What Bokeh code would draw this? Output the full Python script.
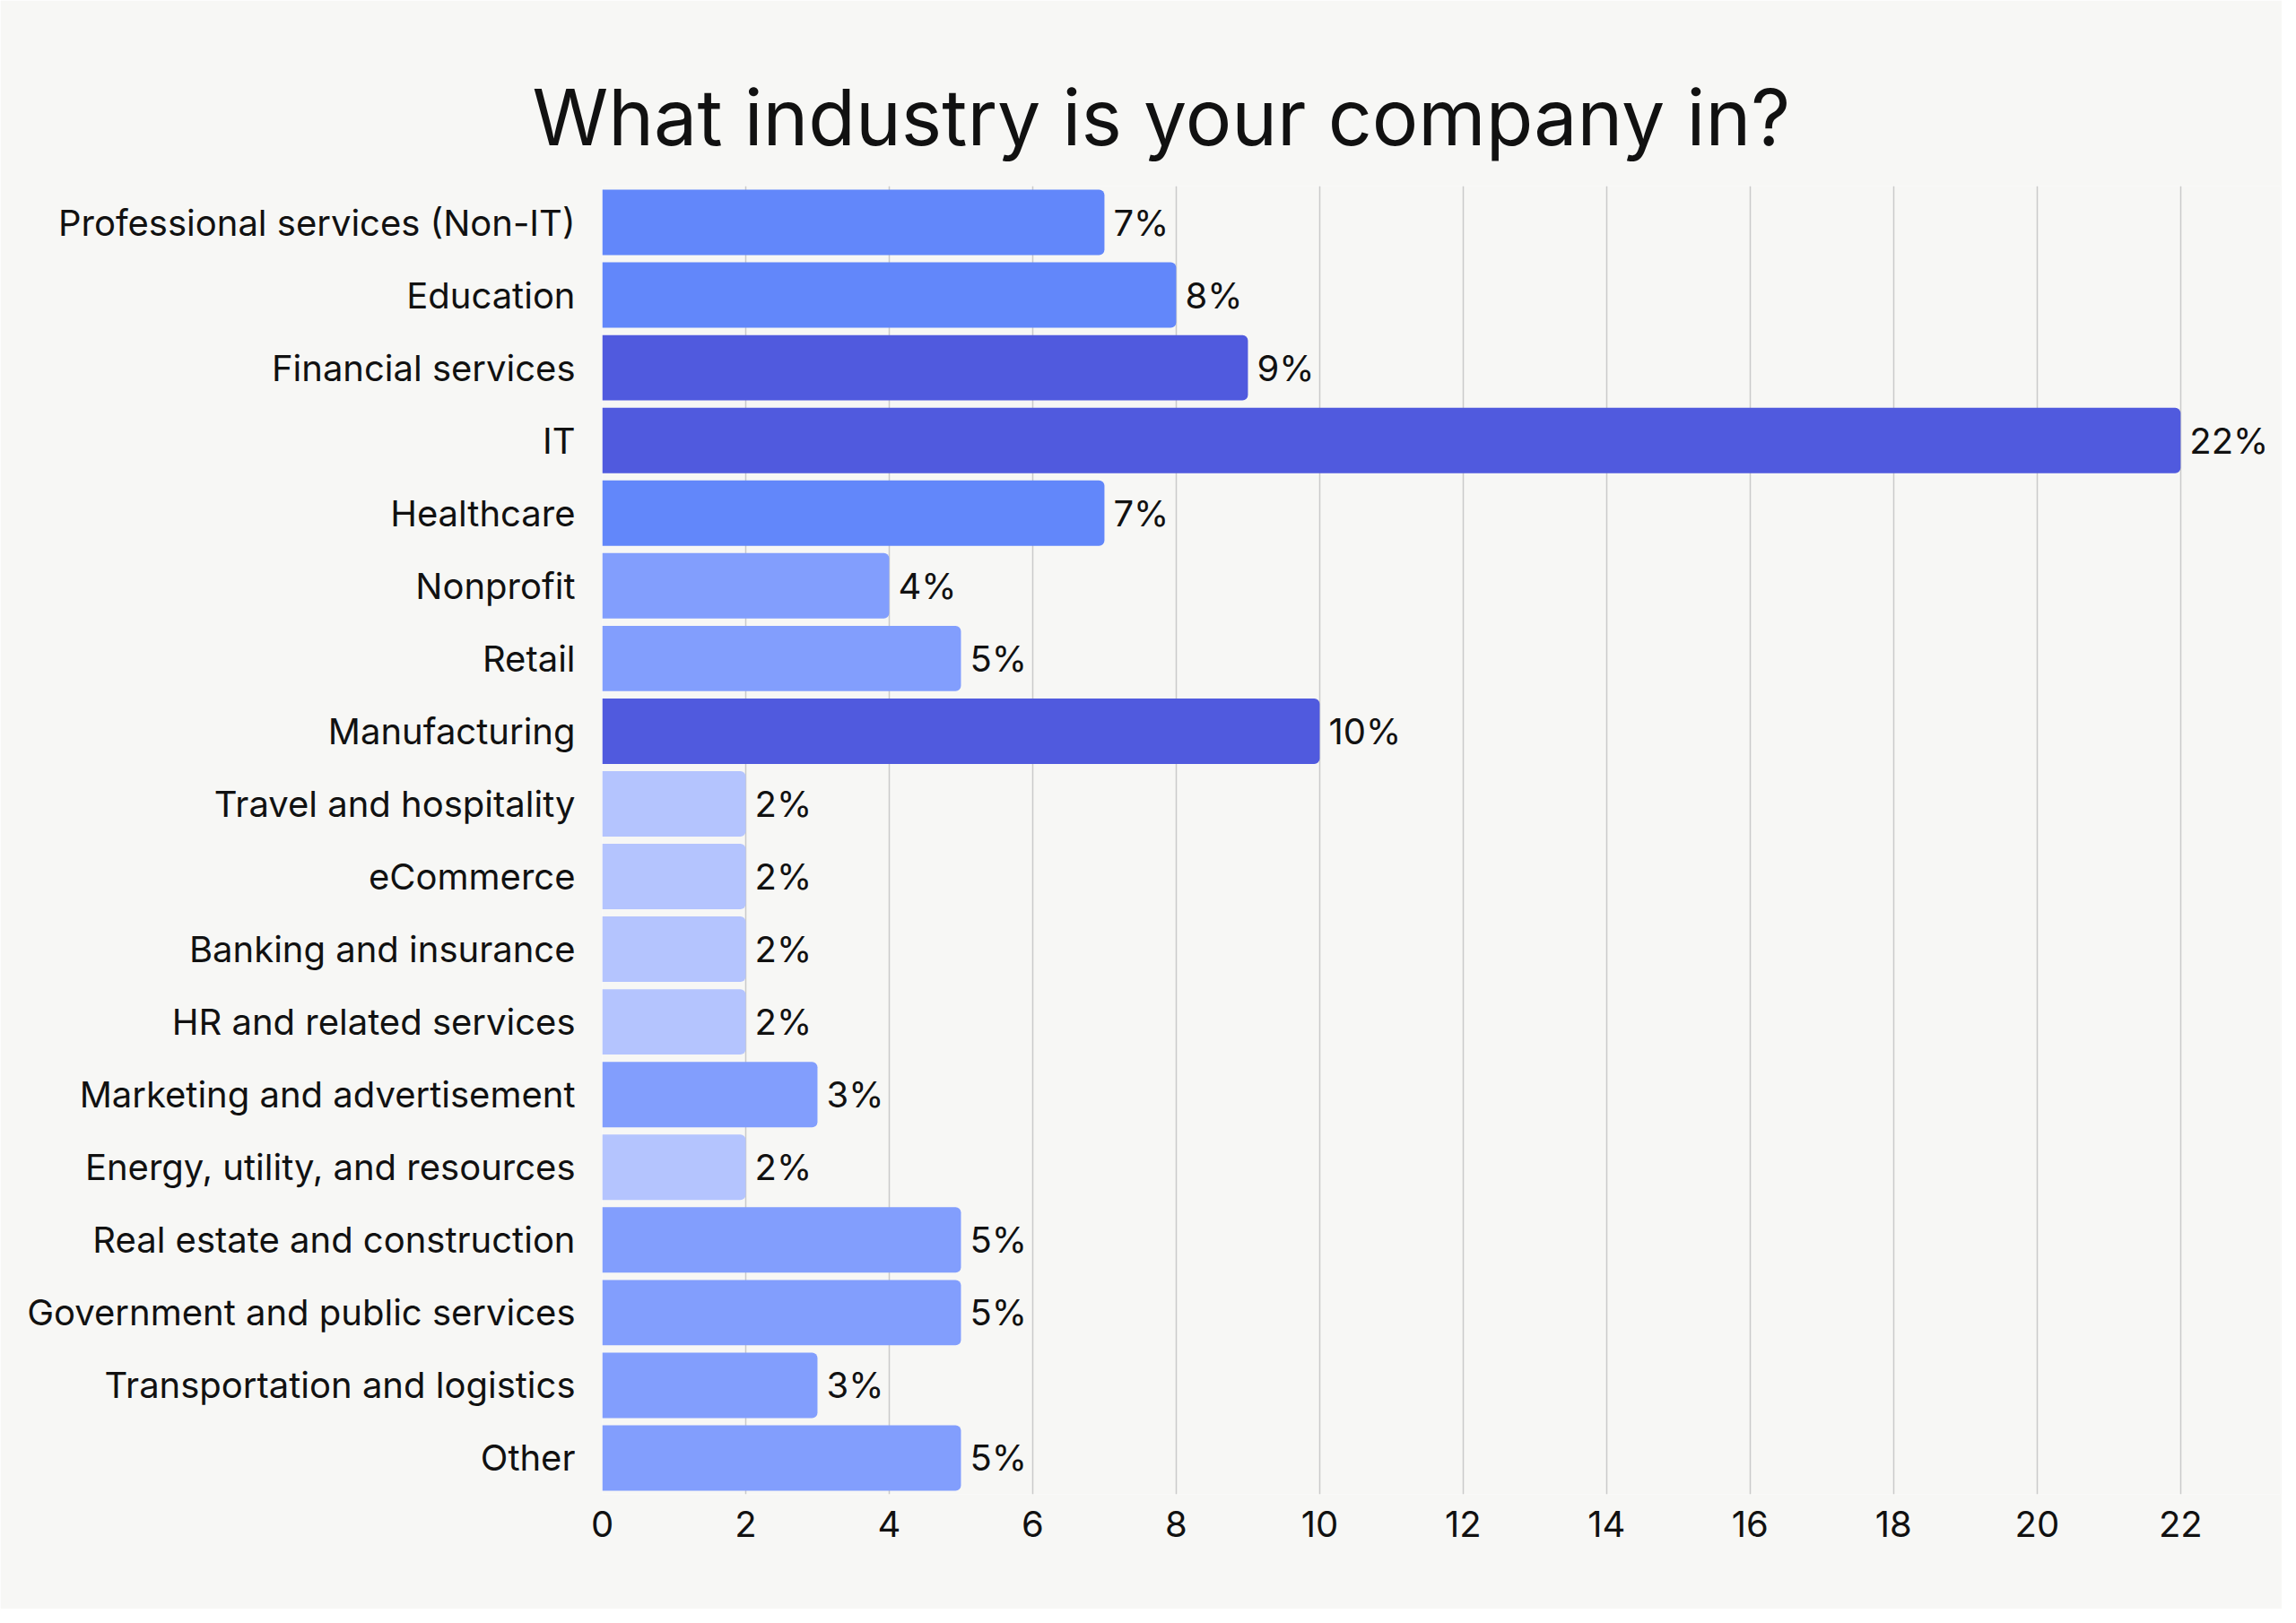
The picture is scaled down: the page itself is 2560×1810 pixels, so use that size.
from bokeh.plotting import figure
from bokeh.models import FactorRange, Range1d, FixedTicker, ColumnDataSource, Title
from bokeh.core.properties import value
from bokeh.embed import file_html
from bokeh.resources import INLINE

categories = [
    "Professional services (Non-IT)",
    "Education",
    "Financial services",
    "IT",
    "Healthcare",
    "Nonprofit",
    "Retail",
    "Manufacturing",
    "Travel and hospitality",
    "eCommerce",
    "Banking and insurance",
    "HR and related services",
    "Marketing and advertisement",
    "Energy, utility, and resources",
    "Real estate and construction",
    "Government and public services",
    "Transportation and logistics",
    "Other",
]
values = [7, 8, 9, 22, 7, 4, 5, 10, 2, 2, 2, 2, 3, 2, 5, 5, 3, 5]
tick_values = [0, 2, 4, 6, 8, 10, 12, 14, 16, 18, 20, 22]
title_text = "What industry is your company in?"

FONT = "Inter"
BG = "#F7F7F5"


def tier_color(v):
    if v >= 9:
        return "#505ADE"
    if v >= 7:
        return "#6287FA"
    if v >= 3:
        return "#829EFD"
    return "#B4C4FE"


source = ColumnDataSource(dict(
    cat=categories,
    val=values,
    color=[tier_color(v) for v in values],
    label=[f"{v}%" for v in values],
))

p = figure(
    width=2544, height=1794,
    y_range=FactorRange(factors=list(reversed(categories))),
    x_range=Range1d(0, 23.39),
    output_backend="svg", toolbar_location=None,
    min_border_left=671, min_border_right=2,
    min_border_top=207, min_border_bottom=128,
    background_fill_color=BG, border_fill_color=BG,
    outline_line_color=None,
)

t = Title(text=title_text, align="left", offset=-78,
          text_font=FONT, text_font_size="86px", text_font_style="normal",
          text_color="#111111", standoff=50)
p.add_layout(t, "above")

p.hbar(y="cat", right="val", left=0, height=0.9, source=source,
       fill_color="color", line_color=None, border_radius=(0, 6, 6, 0))

p.text(x="val", y="cat", text="label", source=source, x_offset=10,
       text_baseline="middle", text_align="left",
       text_font=value(FONT), text_font_size="40px", text_color="#111111")

p.xgrid.ticker = FixedTicker(ticks=tick_values)
p.xgrid.grid_line_color = "#CACACA"
p.xgrid.grid_line_width = 1.5
p.ygrid.grid_line_color = None

p.xaxis.ticker = FixedTicker(ticks=tick_values)
for ax in (p.xaxis[0], p.yaxis[0]):
    ax.axis_line_color = None
    ax.major_tick_line_color = None
    ax.minor_tick_line_color = None
    ax.major_tick_out = 0
    ax.major_tick_in = 0
    ax.major_label_text_font = FONT
    ax.major_label_text_font_size = "40px"
    ax.major_label_text_color = "#111111"
p.yaxis.major_label_standoff = 30
p.xaxis.major_label_standoff = 18

open("out.html", "w").write(file_html(p, INLINE))
